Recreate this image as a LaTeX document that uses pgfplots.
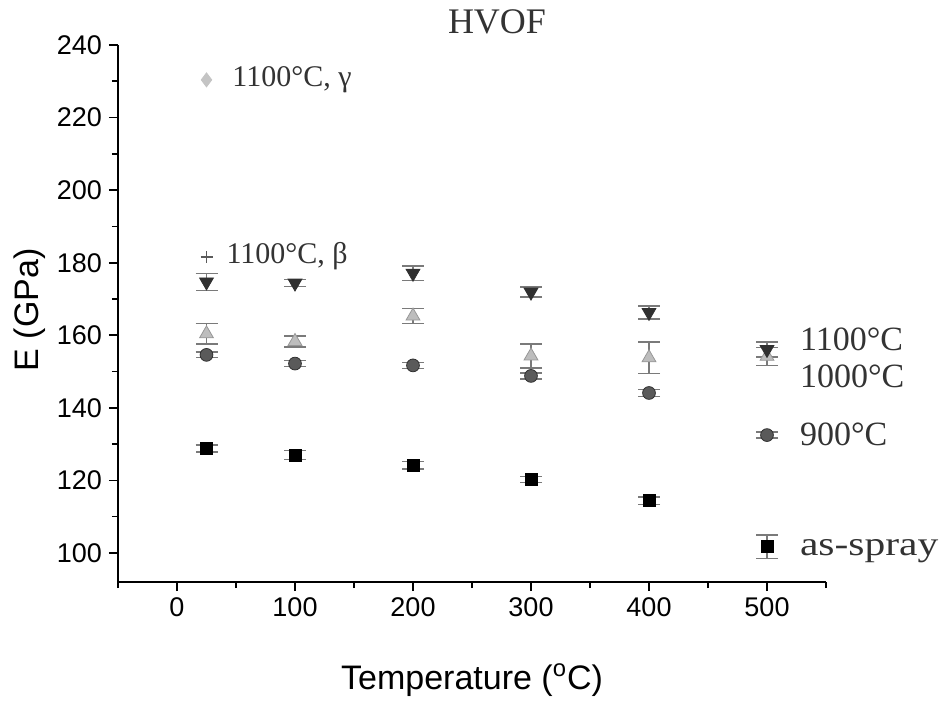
\documentclass[border=0pt]{standalone}
\usepackage{pgfplots}
\pgfplotsset{compat=1.18}
\usepackage{fontspec}
\setmainfont{Liberation Serif}
\newfontfamily\arial{Liberation Sans}
\definecolor{c1100}{HTML}{303030}
\definecolor{c1000}{HTML}{BDBDBD}
\definecolor{c900}{HTML}{5A5A5A}
\definecolor{cbar}{HTML}{7A7A7A}
\pgfplotstableread{
x y e
25 128.8 1.0
100 127.0 1.2
200 124.2 1.0
300 120.3 0.8
400 114.4 1.0
500 101.7 3.3
}\asspray
\pgfplotstableread{
x y e
25 154.6 0.8
100 152.2 0.8
200 151.7 0.8
300 148.8 0.8
400 144.1 1.0
500 132.5 0.8
}\nineh
\pgfplotstableread{
x y e
25 160.4 2.8
100 158.3 1.5
200 165.3 2.0
300 154.3 3.3
400 153.8 4.4
500 154.2 2.5
}\tenh
\pgfplotstableread{
x y e
25 174.7 2.4
100 174.4 1.0
200 177.1 2.0
300 171.9 1.4
400 166.3 1.8
500 156.1 2.1
}\elevenh
\begin{document}
\begin{tikzpicture}
\begin{axis}[
  scale only axis, width=354pt, height=268.5pt,
  xmin=-50, xmax=550, ymin=92, ymax=240,
  axis lines*=left,
  axis line style={line width=0.8pt},
  xtick={0,100,...,500}, minor xtick={-50,50,150,250,350,450,550},
  ytick={100,120,...,240}, minor ytick={110,130,...,230},
  tick align=outside,
  major tick length=4.5pt, minor tick length=3pt,
  tick style={black, line width=0.8pt},
  /pgf/number format/assume math mode=true,
  ticklabel style={font=\arial\fontsize{13.5}{15}\selectfont},
  clip=false,
  error bars/error bar style={cbar, line width=0.7pt},
  error bars/error mark options={cbar, rotate=90, mark size=5.5pt, line width=0.7pt},
]
\addplot[only marks, mark=square*, mark size=3pt, black,
  error bars/.cd, y dir=both, y explicit]
  table[x=x, y=y, y error=e]{\asspray};
\addplot[only marks, mark=*, mark size=3.2pt, draw=c1100, fill=c900,
  error bars/.cd, y dir=both, y explicit]
  table[x=x, y=y, y error=e]{\nineh};
\addplot[only marks, mark=triangle*, mark size=4pt, draw=c1000!80!black, fill=c1000,
  error bars/.cd, y dir=both, y explicit]
  table[x=x, y=y, y error=e]{\tenh};
\addplot[only marks, mark=triangle*, mark size=4pt, mark options={rotate=180}, draw=c1100, fill=c1100,
  error bars/.cd, y dir=both, y explicit]
  table[x=x, y=y, y error=e]{\elevenh};
\addplot[only marks, mark=diamond*, mark size=3.5pt, draw=c1000!90, fill=c1000!90]
  coordinates {(25,230.4)};
\addplot[only marks, mark=+, mark size=3pt, line width=0.8pt, draw=c900]
  coordinates {(25,181.5)};
% annotations
\node[anchor=west, font=\fontsize{15}{17}\selectfont, text=black!80] at (axis cs:41,230.4) {1100°C, γ};
\node[anchor=west, font=\fontsize{15}{17}\selectfont, text=black!80] at (axis cs:36,181.8) {1100°C, β};
\node[anchor=west, font=\fontsize{17}{19}\selectfont, text=black!80] at (axis cs:522,159.0) {1100°C};
\node[anchor=west, font=\fontsize{17}{19}\selectfont, text=black!80] at (axis cs:522,148.6) {1000°C};
\node[anchor=west, font=\fontsize{17}{19}\selectfont, text=black!80] at (axis cs:522,132.6) {900°C};
\node[anchor=west, font=\fontsize{17}{19}\selectfont, text=black!80] at (axis cs:522,100.6) {\scalebox{1.22}[1]{as-spray}};
\end{axis}
\node[font=\fontsize{18}{20}\selectfont, text=black!80] at (189.5pt,280pt) {HVOF};
\node[font=\arial\fontsize{17}{19}\selectfont, rotate=90] at (-44pt,136pt) {E (GPa)};
\node[font=\arial\fontsize{17}{19}\selectfont] at (177pt,-49pt) {Temperature (\textsuperscript{o}C)};
\pgfresetboundingbox
\path (-59pt,-63pt) rectangle (411pt,291pt);
\end{tikzpicture}
\end{document}
